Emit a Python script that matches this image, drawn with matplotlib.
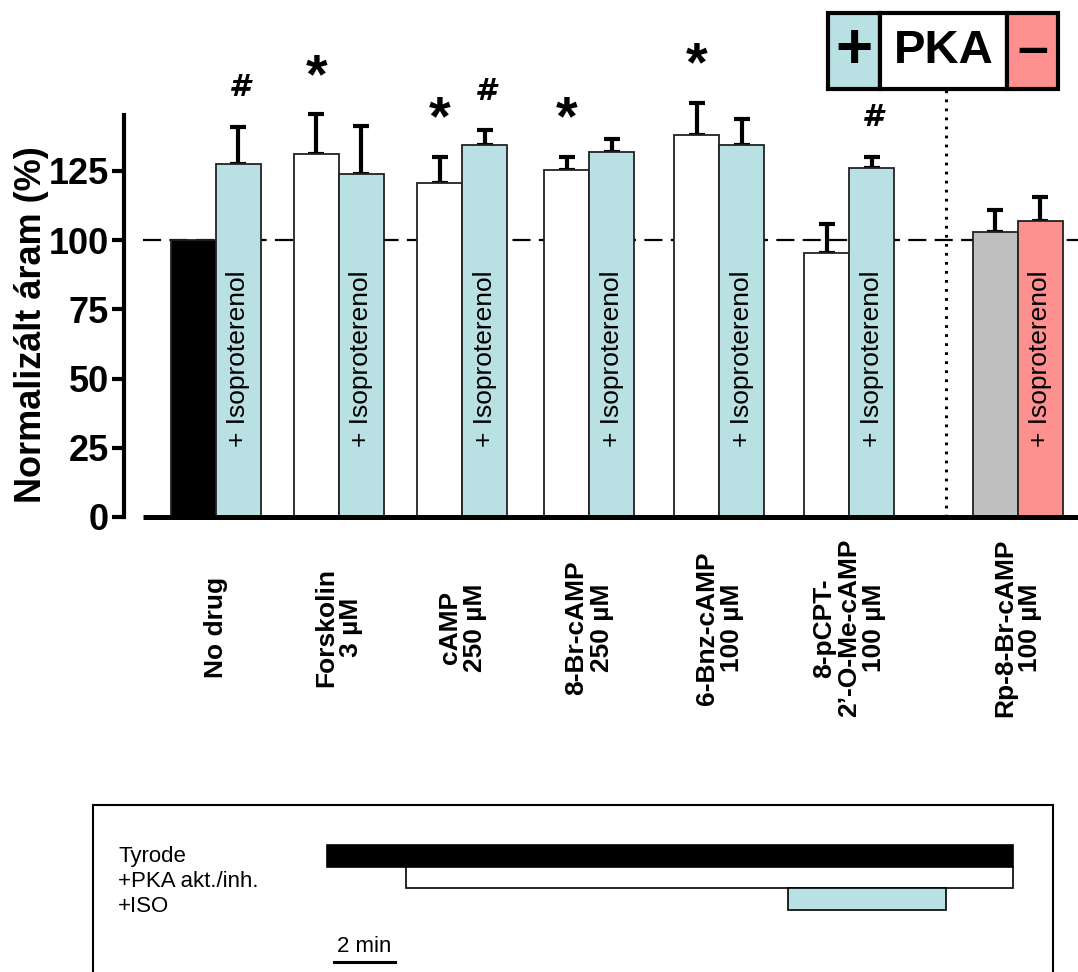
import numpy as np
import matplotlib
matplotlib.use('Agg')
import matplotlib.pyplot as plt
from matplotlib.patches import Rectangle

plt.rcParams['font.family'] = ['Liberation Sans', 'DejaVu Sans']
plt.rcParams['lines.scale_dashes'] = False

# groups (x labels under each pair of bars)
groups = ['No drug', 'Forskolin\n3 µM', 'cAMP\n250 µM', '8-Br-cAMP\n250 µM',
          '6-Bnz-cAMP\n100 µM', '8-pCPT-\n2\u2019-O-Me-cAMP\n100 µM', 'Rp-8-Br-cAMP\n100 µM']
# drug alone
drug_mean = [100.0, 130.9, 120.7, 125.2, 137.9, 95.3, 103.0]
drug_sem = [0.0, 14.6, 9.4, 4.9, 11.7, 10.5, 8.0]
# drug + isoproterenol
iso_mean = [127.4, 124.0, 134.4, 131.8, 134.4, 126.0, 106.9]
iso_sem = [13.5, 17.3, 5.3, 4.7, 9.4, 4.1, 8.7]
# significance marks: (group, 0=drug / 1=+iso, symbol)
sig_marks = [(0, 1, '#'), (1, 0, '*'), (2, 0, '*'), (2, 1, '#'),
             (3, 0, '*'), (4, 0, '*'), (5, 1, '#')]

# protocol panel (minutes)
protocol_labels = ['Tyrode', '+PKA akt./inh.', '+ISO']
protocol_start = [0.0, 2.6, 15.1]
protocol_end = [22.5, 22.5, 20.3]

LBLUE = '#b9e0e3'
PINK = '#ff9090'
GREY = '#c0c0c0'

group_x = np.array([0, 2.73, 5.47, 8.29, 11.18, 14.07, 17.82])
drug_colors = ['black', 'white', 'white', 'white', 'white', 'white', GREY]
iso_colors = [LBLUE] * 6 + [PINK]

fig = plt.figure(figsize=(10.78, 9.72), dpi=100)
ax = fig.add_axes([124 / 1078, (972 - 517) / 972, (1078 - 124) / 1078, 517 / 972])
ax.set_xlim(-1.544, 19.656)
ax.set_ylim(0, 517 / 2.77)

x_start = -1.122
ax.plot([x_start, 19.656], [100, 100], color='k', lw=1.6, dashes=(13, 6), zorder=1)

ax.bar(group_x, drug_mean, width=1, color=drug_colors, edgecolor='#222222', lw=1.3, zorder=2)
ax.bar(group_x + 1, iso_mean, width=1, color=iso_colors, edgecolor='#222222', lw=1.3, zorder=2)

xs = np.concatenate([group_x, group_x + 1])
ms = np.array(drug_mean + iso_mean)
es = np.array(drug_sem + iso_sem)
keep = es > 0
ax.errorbar(xs[keep], ms[keep], yerr=[np.zeros(keep.sum()), es[keep]], fmt='none',
            ecolor='k', elinewidth=3, capsize=6, capthick=3, zorder=1)

for g, k, sym in sig_marks:
    m = (drug_mean, iso_mean)[k][g]
    e = (drug_sem, iso_sem)[k][g]
    if sym == '*':
        ax.text(group_x[g] + k, m + e + 8, sym, ha='center', va='baseline',
                fontsize=40, fontweight='bold')
    else:
        ax.text(group_x[g] + k, m + e + 11, sym, ha='center', va='baseline',
                fontsize=22, fontweight='bold', fontstyle='oblique', family='DejaVu Sans')

for x in group_x + 1:
    ax.text(x, 57, '+ Isoproterenol', rotation=90, ha='center', va='center', fontsize=19)

for x, lab in zip(group_x + 0.5, groups):
    ax.text(x, -40, lab, rotation=90, ha='center', va='center', multialignment='center',
            fontsize=19, fontweight='bold', linespacing=1.05, clip_on=False)

# axis line and y axis
ax.plot([x_start, 19.656], [0, 0], color='k', lw=3.6, solid_capstyle='butt', clip_on=False, zorder=3)
for s in ['top', 'right', 'bottom']:
    ax.spines[s].set_visible(False)
ax.spines['left'].set_linewidth(3)
ax.spines['left'].set_bounds(0, 145)
ax.set_xticks([])
ax.set_yticks([0, 25, 50, 75, 100, 125])
ax.tick_params(axis='y', length=9, width=3, pad=2, labelsize=26)
for t in ax.get_yticklabels():
    t.set_fontweight('bold')
ax.set_ylabel('Normalizált áram (%)', fontsize=26, fontweight='bold')
ax.yaxis.set_label_coords(-0.079, 0.372)

# PKA box
box_x = [14.1, 15.256, 18.078, 19.21]
box_cols = [LBLUE, 'white', PINK]
box_txt = ['+', 'PKA', '\u2013']
box_fs = [46, 34, 40]
for i in range(3):
    ax.add_patch(Rectangle((box_x[i], 154.5), box_x[i + 1] - box_x[i], 27.4,
                           facecolor=box_cols[i], edgecolor='k', lw=3, clip_on=False, zorder=4))
    ax.text((box_x[i] + box_x[i + 1]) / 2, 168.2, box_txt[i], ha='center', va='center',
            fontsize=box_fs[i], fontweight='bold', zorder=5)
ax.plot([16.72, 16.72], [0, 154.5], color='k', lw=2.2, dashes=(2, 4.5), zorder=1)

# protocol panel
ax2 = fig.add_axes([93 / 1078, (972 - 990) / 972, (1053 - 93) / 1078, (990 - 805) / 972])
ax2.set_xlim(-7.67, 23.8)
ax2.set_ylim(990, 805)
row_y = 856 + 21.5 * np.arange(3)
dur = np.array(protocol_end) - np.array(protocol_start)
ax2.barh(row_y, dur, left=protocol_start, height=21.5,
         color=['black', 'white', LBLUE], edgecolor='k', lw=1.2)
for i, lab in enumerate(protocol_labels):
    ax2.text(-6.85, 856 + 25 * i, lab, ha='left', va='center', fontsize=16)
ax2.plot([0.23, 2.23], [962, 962], color='k', lw=2.2)
ax2.text(1.23, 946, '2 min', ha='center', va='center', fontsize=16)
ax2.set_xticks([])
ax2.set_yticks([])
for s in ax2.spines.values():
    s.set_linewidth(1.5)

fig.savefig('out.png', dpi=100)
